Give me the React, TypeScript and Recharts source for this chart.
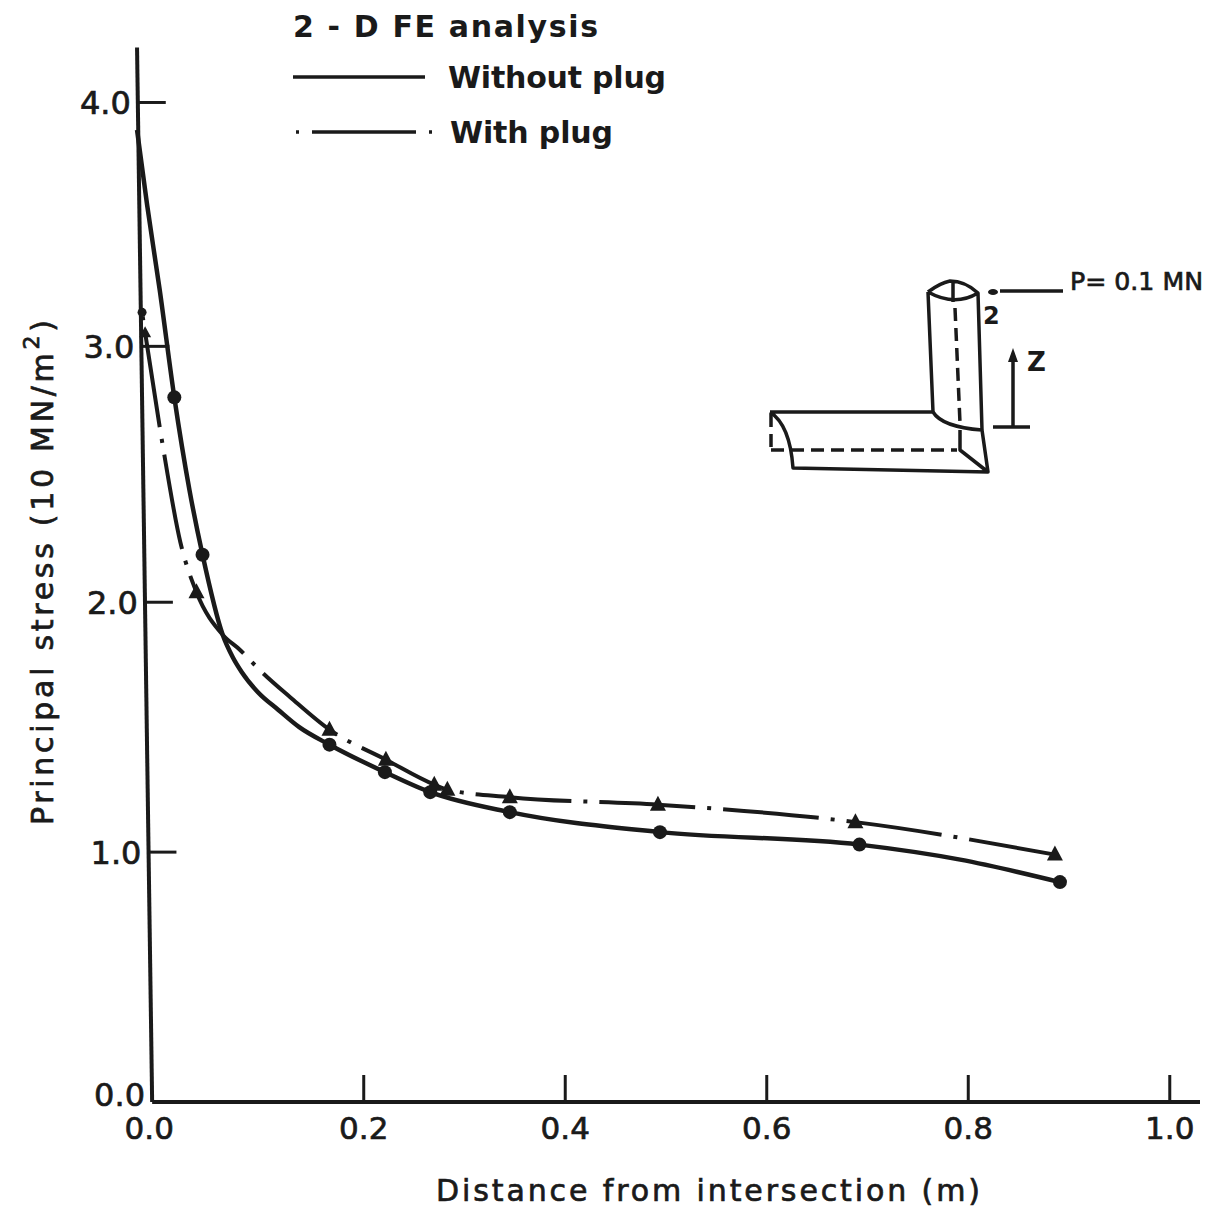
import { LineChart, Line, XAxis, YAxis, ReferenceLine } from 'recharts';

const FONT = '"DejaVu Sans", sans-serif';
const INK = '#1a1a1a';

// the first points sit left of x=0 because the printed axis is skewed
const distanceWithout = [-0.025, -0.015, -0.0025, 0.012, 0.027, 0.04, 0.06, 0.07, 0.079, 0.095, 0.115, 0.136, 0.166, 0.221, 0.266, 0.345, 0.494, 0.692, 0.792, 0.891];
const stressWithout = [3.89, 3.59, 3.25, 2.82, 2.45, 2.19, 1.87, 1.78, 1.72, 1.64, 1.57, 1.5, 1.43, 1.32, 1.24, 1.16, 1.08, 1.03, 0.97, 0.88];
const markersWithout = ['', '', '', 'c', '', 'c', '', '', '', '', '', '', 'c', 'c', 'c', 'c', 'c', 'c', '', 'c'];

const distanceWith = [-0.02, -0.017, 0.0, 0.018, 0.034, 0.06, 0.077, 0.099, 0.127, 0.166, 0.222, 0.27, 0.283, 0.345, 0.492, 0.688, 0.886];
const stressWith = [3.16, 3.08, 2.64, 2.24, 2.04, 1.87, 1.81, 1.72, 1.62, 1.49, 1.37, 1.27, 1.25, 1.22, 1.19, 1.12, 0.99];
const markersWith = ['d', 's', '', '', 't', '', '', '', '', 't', 't', 't', 't', 't', 't', 't', 't'];

const xTicks = [0, 0.2, 0.4, 0.6, 0.8, 1.0];
const yTicks = [0, 1, 2, 3, 4];

const withoutRows = distanceWithout.map((x, i) => ({ x, y: stressWithout[i], mark: markersWithout[i] }));
const withRows = distanceWith.map((x, i) => ({ x, y: stressWith[i], mark: markersWith[i] }));

const heavy = { stroke: INK, strokeWidth: 0.7 };

function Marker(props: any) {
  const { cx, cy, payload, index } = props;
  if (payload.mark === 'c') return <circle key={index} cx={cx} cy={cy} r={7} fill={INK} />;
  if (payload.mark === 'd') return <circle key={index} cx={cx} cy={cy} r={4.5} fill={INK} />;
  if (payload.mark === 't') return <path key={index} d={`M${cx} ${cy - 9}L${cx + 8} ${cy + 6}L${cx - 8} ${cy + 6}Z`} fill={INK} />;
  if (payload.mark === 's') return <path key={index} d={`M${cx} ${cy - 6}L${cx + 6} ${cy + 5}L${cx - 6} ${cy + 5}Z`} fill={INK} />;
  return <g key={index} />;
}

function XTick(props: any) {
  const { x, y, payload } = props;
  const first = payload.value === 0;
  return (
    <g>
      {!first && <line x1={x} x2={x} y1={y - 27} y2={y} stroke={INK} strokeWidth={3} />}
      <text x={first ? x - 13 : x} y={y + 37} textAnchor="middle" fontFamily={FONT} fontSize={31} fill={INK} {...heavy}>
        {payload.value.toFixed(1)}
      </text>
    </g>
  );
}

function YTick(props: any) {
  const { y, payload } = props;
  // axis leans to the right going down
  const axisX = 137 + ((y - 48) / 1054) * 15;
  // the printed 3.0 and 0.0 sit a little above the scale
  const shift = payload.value === 3 ? -6 : payload.value === 0 ? -8 : 0;
  return (
    <g>
      {payload.value !== 0 && <line x1={axisX} x2={axisX + 28} y1={y + shift} y2={y + shift} stroke={INK} strokeWidth={3} />}
      <text x={axisX - 7} y={y + shift + 12} textAnchor="end" fontFamily={FONT} fontSize={32} fill={INK} {...heavy}>
        {payload.value.toFixed(1)}
      </text>
    </g>
  );
}

function Inset() {
  const line = { fill: 'none', stroke: INK, strokeWidth: 3.5, strokeLinejoin: 'round' as const };
  const dashed = { ...line, strokeDasharray: '13 7' };
  return (
    <svg width={1211} height={1210} style={{ position: 'absolute', left: 0, top: 0 }}>
      <text x={293} y={37} fontFamily={FONT} fontWeight={700} fontSize={30} textLength={305} fill={INK}>2 - D FE analysis</text>
      <line x1={293} x2={425} y1={77} y2={77} stroke={INK} strokeWidth={3.5} />
      <text x={448} y={88} fontFamily={FONT} fontWeight={700} fontSize={30} textLength={218} fill={INK}>Without plug</text>
      <line x1={296} x2={434} y1={132} y2={132} stroke={INK} strokeWidth={3.5} strokeDasharray="3 13 104 13 3" />
      <text x={450} y={143} fontFamily={FONT} fontWeight={700} fontSize={30} textLength={163} fill={INK}>With plug</text>

      <path {...line} d="M928 292L933 412M978 293L982 430M928 292Q940 283 950 281Q965 281 978 293Q955 307 928 292M953 282V302" />
      <path {...dashed} d="M955 308L960 423" />
      <path {...line} d="M933 412Q942 427 982 430M770 412H933M770 412Q790 425 793 468L988 472L982 430M960 430V450L988 472" />
      <path {...dashed} d="M771 414V447M771 450H957" />
      <path {...line} d="M1013 427V360M993 427H1030M1000 291H1063" />
      <path d="M1013 348L1018 362H1008Z" fill={INK} />
      <ellipse cx={993} cy={292} rx={5} ry={3} fill={INK} />
      <text x={983} y={324} fontFamily={FONT} fontWeight={700} fontSize={24} fill={INK}>2</text>
      <text x={1027} y={371} fontFamily={FONT} fontWeight={700} fontSize={26} fill={INK}>Z</text>
      <text x={1070} y={290} fontFamily={FONT} fontSize={24} textLength={133} lengthAdjust="spacingAndGlyphs" fill={INK} {...heavy}>P= 0.1 MN</text>
    </svg>
  );
}

export default function App() {
  return (
    <div style={{ position: 'absolute', left: 0, top: 0, width: 1211, height: 1210, background: '#fff' }}>
      <LineChart width={1211} height={1210} margin={{ top: 40, right: 11, bottom: 0, left: 0 }}>
        <XAxis
          type="number"
          dataKey="x"
          domain={[-0.03, 1.03]}
          ticks={xTicks}
          height={108}
          axisLine={false}
          tickLine={false}
          tickSize={0}
          tickMargin={0}
          tick={<XTick />}
          interval={0}
          allowDuplicatedCategory={false}
        />
        <YAxis
          type="number"
          dataKey="y"
          domain={[0, 4.25]}
          ticks={yTicks}
          width={132}
          axisLine={false}
          tickLine={false}
          tick={<YTick />}
          interval={0}
        />
        <ReferenceLine segment={[{ x: -0.025, y: 4.22 }, { x: -0.01, y: 0 }]} stroke={INK} strokeWidth={4} />
        <ReferenceLine segment={[{ x: -0.01, y: 0 }, { x: 1.03, y: 0 }]} stroke={INK} strokeWidth={4} />
        <Line
          data={withoutRows}
          dataKey="y"
          type="monotone"
          stroke={INK}
          strokeWidth={4.5}
          dot={<Marker />}
          activeDot={false}
          isAnimationActive={false}
        />
        <Line
          data={withRows}
          dataKey="y"
          type="monotone"
          stroke={INK}
          strokeWidth={4}
          strokeDasharray="96 12 4 12"
          strokeDashoffset={-20}
          dot={<Marker />}
          activeDot={false}
          isAnimationActive={false}
        />
      </LineChart>
      <Inset />
      <svg width={1211} height={1210} style={{ position: 'absolute', left: 0, top: 0, pointerEvents: 'none' }}>
        <text x={436} y={1201} fontFamily={FONT} fontSize={30} textLength={544} fill={INK} {...heavy}>Distance from intersection (m)</text>
        <text
          transform="translate(53 825) rotate(-90)"
          fontFamily={FONT}
          fontSize={30}
          textLength={505}
          fill={INK}
          {...heavy}
        >
          Principal stress (10 MN/m<tspan dy={-14} fontSize={22}>2</tspan><tspan dy={14}>)</tspan>
        </text>
      </svg>
    </div>
  );
}
